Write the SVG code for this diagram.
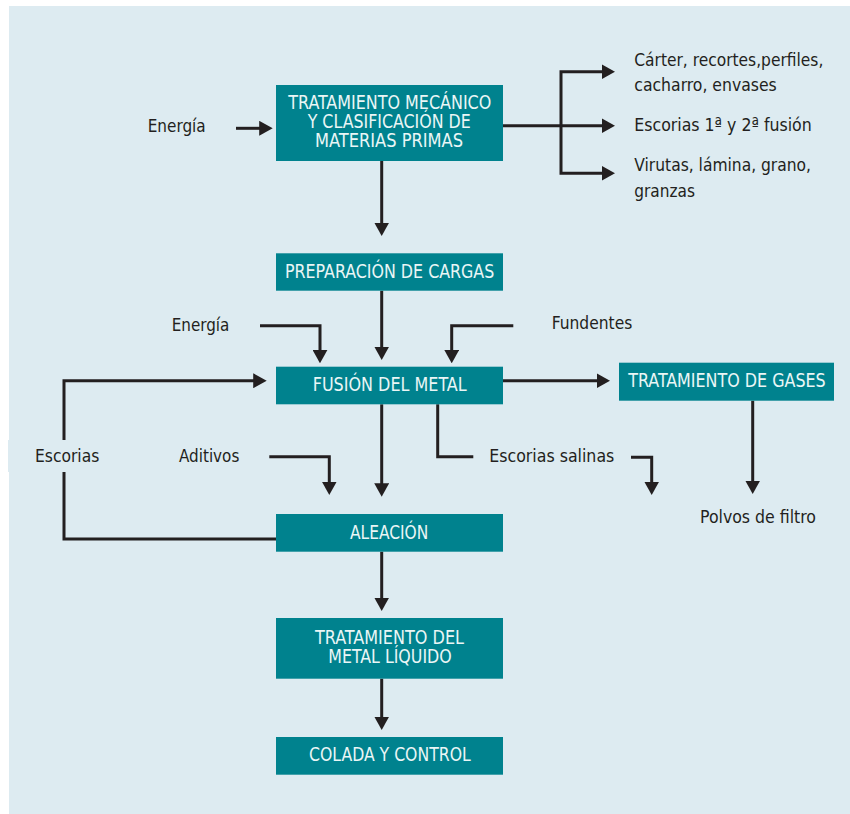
<svg xmlns="http://www.w3.org/2000/svg" width="850" height="814" viewBox="0 0 850 814">
<defs>
<style>
.bg{fill:#ddebf1}
.box{fill:#00828e}
.bt{fill:#eaf6f6;font-family:"Liberation Sans Narrow","DejaVu Sans Condensed","Liberation Sans",sans-serif;font-stretch:condensed;font-size:19px}
.lb{fill:#231f20;font-family:"Liberation Sans Narrow","DejaVu Sans Condensed","Liberation Sans",sans-serif;font-stretch:condensed;font-size:18.5px}
.c{fill:none;stroke:#231f20;stroke-width:3;stroke-linejoin:miter}
.a{marker-end:url(#arr)}
</style>
<marker id="arr" viewBox="0 0 13.5 15" refX="3.5" refY="7.5" markerWidth="13.5" markerHeight="15" markerUnits="userSpaceOnUse" orient="auto">
<path d="M0,0 L13.5,7.5 L0,15 Z" fill="#231f20"/>
</marker>
</defs>
<rect class="bg" x="9" y="6" width="841" height="808"/>

<g id="connectors">
<path class="c a" d="M236,128.3 H262.7"/>
<path class="c a" d="M503,125.7 H605"/>
<path class="c a" d="M561,125.7 V71.7 H605"/>
<path class="c a" d="M561,125.7 V173.3 H605"/>
<path class="c a" d="M381.7,160.7 V226"/>
<path class="c a" d="M381.7,290.7 V350"/>
<path class="c a" d="M260,325.7 H320 V353.3"/>
<path class="c a" d="M513.3,325.7 H451.7 V353.3"/>
<path class="c a" d="M276,539 H64 V380.7 H256.7"/>
<path class="c a" d="M381.7,404.3 V486.7"/>
<path class="c a" d="M269.3,456.7 H329.3 V485"/>
<path class="c" d="M437.7,404.3 V456.7 H473.3"/>
<path class="c a" d="M631,457.3 H651.7 V485"/>
<path class="c a" d="M502.7,380.7 H600"/>
<path class="c a" d="M752.7,400.7 V484"/>
<path class="c a" d="M381.7,551.7 V601"/>
<path class="c a" d="M381.7,678.7 V720"/>
</g>

<g id="box-tratamiento-mecanico">
<rect class="box" x="276" y="85" width="227" height="76"/>
<text class="bt" x="288.3" y="109" textLength="203" lengthAdjust="spacingAndGlyphs">TRATAMIENTO MECÁNICO</text>
<text class="bt" x="307.7" y="128" textLength="163" lengthAdjust="spacingAndGlyphs">Y CLASIFICACIÓN DE</text>
<text class="bt" x="315" y="146.7" textLength="148" lengthAdjust="spacingAndGlyphs">MATERIAS PRIMAS</text>
</g>
<g id="box-preparacion">
<rect class="box" x="276" y="253.3" width="227" height="37.4"/>
<text class="bt" x="285" y="278.3" textLength="209.3" lengthAdjust="spacingAndGlyphs">PREPARACIÓN DE CARGAS</text>
</g>
<g id="box-fusion">
<rect class="box" x="276" y="366.7" width="227" height="37.6"/>
<text class="bt" x="312.7" y="390.7" textLength="154" lengthAdjust="spacingAndGlyphs">FUSIÓN DEL METAL</text>
</g>
<g id="box-gases">
<rect class="box" x="619" y="362.7" width="215" height="38"/>
<text class="bt" x="628.3" y="386.7" textLength="197.4" lengthAdjust="spacingAndGlyphs">TRATAMIENTO DE GASES</text>
</g>
<g id="box-aleacion">
<rect class="box" x="276" y="514" width="227" height="37.7"/>
<text class="bt" x="350" y="539.3" textLength="78.3" lengthAdjust="spacingAndGlyphs">ALEACIÓN</text>
</g>
<g id="box-tratamiento-liquido">
<rect class="box" x="276" y="618" width="227" height="60.7"/>
<text class="bt" x="315" y="644" textLength="149" lengthAdjust="spacingAndGlyphs">TRATAMIENTO DEL</text>
<text class="bt" x="328.3" y="662.7" textLength="123.4" lengthAdjust="spacingAndGlyphs">METAL LÍQUIDO</text>
</g>
<g id="box-colada">
<rect class="box" x="276" y="737" width="227" height="37.7"/>
<text class="bt" x="309" y="761" textLength="161.7" lengthAdjust="spacingAndGlyphs">COLADA Y CONTROL</text>
</g>

<g id="labels">
<text class="lb" x="147.7" y="131.7" textLength="58" lengthAdjust="spacingAndGlyphs">Energía</text>
<text class="lb" x="634.3" y="66" textLength="189" lengthAdjust="spacingAndGlyphs">Cárter, recortes,perfiles,</text>
<text class="lb" x="634.3" y="90.7" textLength="142.4" lengthAdjust="spacingAndGlyphs">cacharro, envases</text>
<text class="lb" x="634.3" y="131" textLength="177.4" lengthAdjust="spacingAndGlyphs">Escorias 1ª y 2ª fusión</text>
<text class="lb" x="634.3" y="171" textLength="176.7" lengthAdjust="spacingAndGlyphs">Virutas, lámina, grano,</text>
<text class="lb" x="634.3" y="196.7" textLength="60.7" lengthAdjust="spacingAndGlyphs">granzas</text>
<text class="lb" x="171.7" y="330.7" textLength="57.6" lengthAdjust="spacingAndGlyphs">Energía</text>
<text class="lb" x="551.7" y="329.3" textLength="80.6" lengthAdjust="spacingAndGlyphs">Fundentes</text>
<rect class="bg" x="8" y="440" width="100" height="32"/>
<text class="lb" x="35" y="462.3" textLength="64.3" lengthAdjust="spacingAndGlyphs">Escorias</text>
<text class="lb" x="179" y="462.3" textLength="60.3" lengthAdjust="spacingAndGlyphs">Aditivos</text>
<text class="lb" x="489.3" y="461.7" textLength="125" lengthAdjust="spacingAndGlyphs">Escorias salinas</text>
<text class="lb" x="700" y="523.3" textLength="116" lengthAdjust="spacingAndGlyphs">Polvos de filtro</text>
</g>
</svg>
